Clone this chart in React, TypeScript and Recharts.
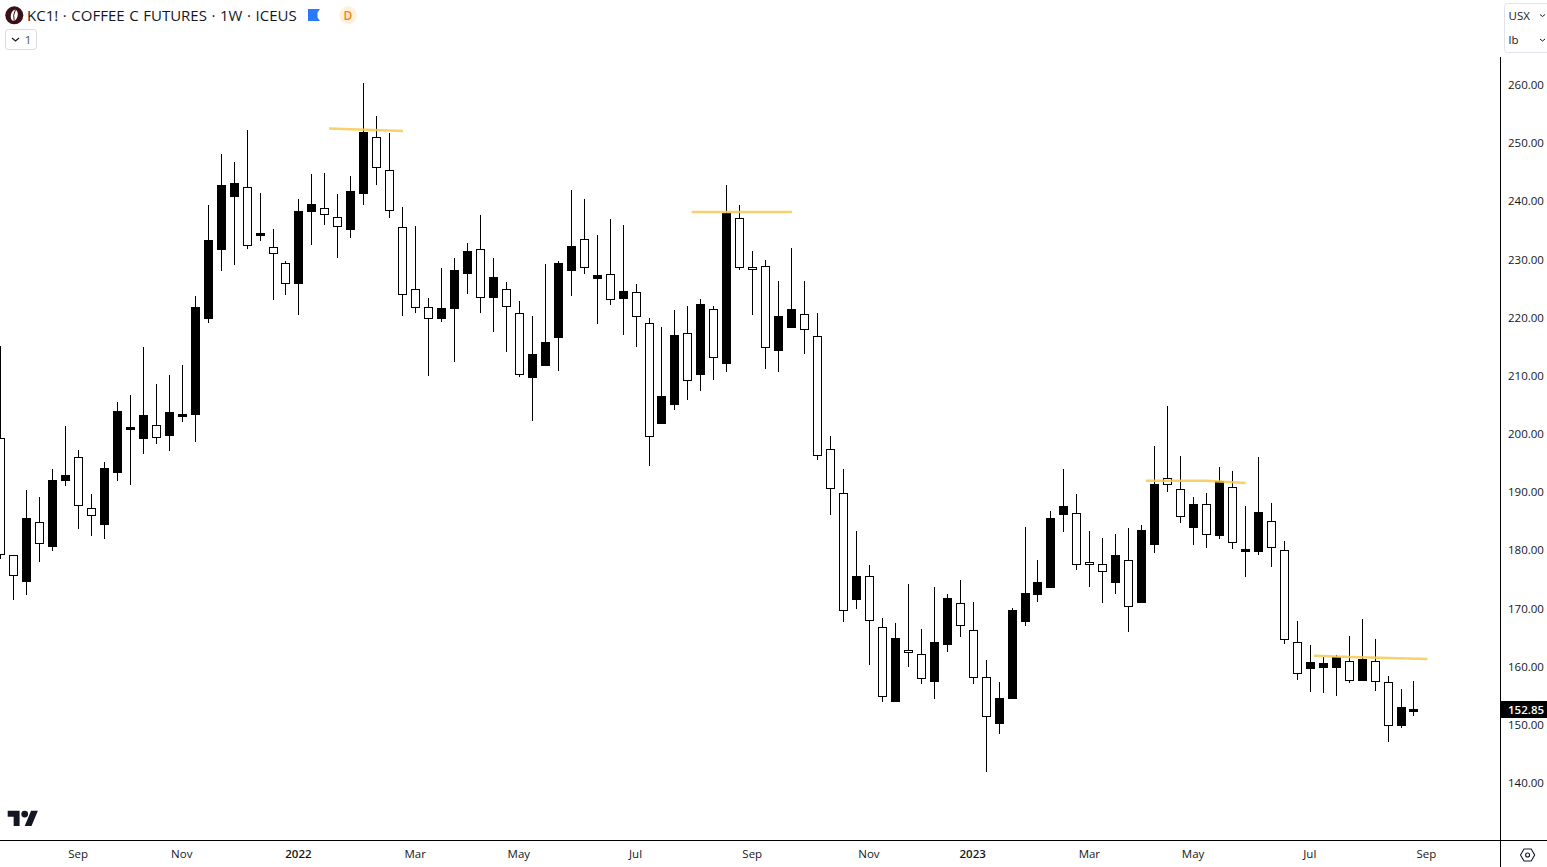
import React from "react";
import { ComposedChart, Bar, Line, XAxis, YAxis } from "recharts";

const opens = [199.40,179.23,174.64,184.91,180.66,192.00,196.08,187.31,184.49,193.43,
200.77,199.23,201.58,199.74,203.01,203.35,219.91,231.77,240.88,242.50,
234.13,232.18,229.43,225.87,238.25,238.89,237.34,235.16,241.35,251.10,
245.42,235.62,224.96,221.87,219.91,221.63,227.65,231.84,223.52,224.96,
220.84,209.77,211.83,216.64,228.16,233.56,226.79,227.54,223.35,224.45,
219.12,201.86,205.12,217.40,210.28,221.53,212.17,237.17,228.75,228.92,
214.41,218.36,220.67,216.88,197.46,189.89,171.60,175.62,166.86,154.06,
162.90,162.21,157.50,163.86,170.98,166.34,158.26,150.28,154.58,167.82,
172.46,173.66,186.21,186.45,178.03,177.69,174.52,178.37,171.09,181.06,
192.47,190.58,183.98,188.00,182.60,190.92,179.80,179.85,185.08,180.09,
164.28,159.74,159.91,159.91,161.01,157.67,161.01,157.40,149.94,152.35];

const highs = [215.22,179.23,190.46,189.26,194.07,201.46,197.34,189.77,195.27,205.59,
206.79,215.04,208.68,210.23,211.95,223.81,239.46,248.22,246.85,252.35,
241.52,235.33,229.78,240.49,244.79,244.96,241.35,244.44,260.43,254.76,
251.83,239.11,235.85,223.42,228.63,230.34,232.92,237.74,230.34,226.22,
222.95,220.37,229.31,229.83,242.04,240.49,234.30,237.05,236.02,225.87,
219.98,218.48,221.41,222.09,223.24,222.09,242.90,239.46,231.55,230.00,
226.39,232.06,226.39,220.89,199.74,194.07,183.41,177.57,168.45,167.59,
174.30,166.56,173.78,172.58,175.00,171.20,161.23,157.45,170.17,184.10,
178.42,186.85,194.07,189.77,183.41,182.21,182.90,183.93,184.45,198.02,
204.90,196.30,189.26,189.94,194.41,193.73,187.71,196.13,188.22,181.69,
167.94,163.81,161.75,162.04,165.36,168.28,164.84,158.48,156.25,157.62];

const lows = [178.65,171.60,172.46,178.13,180.02,191.20,183.81,182.60,182.09,192.06,
191.37,196.70,198.42,197.22,202.20,198.76,219.22,228.16,229.19,231.94,
233.32,223.12,224.04,220.60,232.63,236.07,230.40,233.78,239.51,242.95,
237.27,220.43,220.94,210.11,219.39,212.52,224.21,220.94,217.67,214.24,
209.94,202.37,211.83,210.97,223.86,227.65,219.05,222.32,217.16,215.10,
194.64,201.86,204.27,205.98,207.53,209.42,210.80,228.33,220.60,211.31,
210.80,218.36,213.89,195.67,186.21,167.82,170.05,160.42,154.06,154.06,
160.08,157.16,154.58,162.66,165.24,157.16,142.03,148.56,154.58,167.13,
171.26,173.66,183.29,176.76,173.84,171.09,172.63,166.10,171.09,179.68,
190.17,184.84,181.06,180.54,182.09,180.37,175.55,179.34,177.27,164.03,
157.85,155.78,155.61,155.10,157.28,157.67,155.96,147.19,149.59,151.66];

const closes = [179.40,175.90,185.64,181.40,192.18,193.04,187.93,186.21,194.24,204.04,
201.29,203.35,199.62,203.87,203.53,221.92,233.44,242.90,243.24,232.53,
234.64,231.15,225.99,238.42,239.63,237.86,235.79,241.86,252.01,245.94,
238.54,224.10,221.87,219.98,221.70,228.28,231.55,223.59,227.08,222.04,
210.35,213.84,215.90,229.49,232.41,228.75,227.42,223.24,224.67,220.32,
199.69,206.62,217.11,209.32,222.44,213.27,238.08,228.75,228.40,215.00,
220.37,221.58,218.09,196.56,190.75,169.78,175.67,168.06,154.99,165.02,
162.56,158.09,164.33,171.89,167.20,158.26,151.55,154.70,169.83,172.75,
174.64,185.64,187.71,177.69,177.69,176.48,179.29,170.47,183.58,191.49,
191.44,185.94,188.05,182.84,192.00,181.47,180.32,186.68,180.61,164.79,
158.95,160.89,160.72,161.75,157.74,161.41,157.57,150.01,153.15,152.85];

const tickIndexes = [6, 14, 23, 32, 40, 49, 58, 67, 75, 84, 92, 101, 110];
const tickLabels = ["Sep", "Nov", "2022", "Mar", "May", "Jul", "Sep", "Nov", "2023", "Mar", "May", "Jul", "Sep"];
const priceTicks = [140, 150, 160, 170, 180, 190, 200, 210, 220, 230, 240, 250, 260];
const lastPrice = 152.85;

const trendA = [{ i: 25.32, y: 252.61 }, { i: 31.03, y: 252.18 }];
const trendB = [{ i: 53.28, y: 238.25 }, { i: 61.03, y: 238.25 }];
const trendC = [{ i: 88.31, y: 192.06 }, { i: 92.94, y: 192.06 }, { i: 96.02, y: 191.66 }];
const trendD = [{ i: 101.29, y: 161.97 }, { i: 104.07, y: 161.75 }, { i: 110.03, y: 161.4 }];
const trends = [trendA, trendB, trendC, trendD];

const rows = opens.map((o, i) => ({
  i,
  open: o,
  high: highs[i],
  low: lows[i],
  close: closes[i],
  range: [lows[i], highs[i]],
}));

const FONT = "'Open Sans', 'Noto Sans', sans-serif";
const INK = "#131722";

function Candle(props: any) {
  const { x, y, width, height, payload } = props;
  const cx = Math.floor(x + width / 2) + 0.5;
  const span = payload.high - payload.low;
  const perUnit = span > 0 ? height / span : 0;
  const toY = (v: number) => y + (payload.high - v) * perUnit;
  const top = Math.round(toY(Math.max(payload.open, payload.close)));
  const bottom = Math.round(toY(Math.min(payload.open, payload.close)));
  const hi = Math.round(y);
  const lo = Math.round(y + height);
  const up = payload.close >= payload.open;
  return (
    <g>
      {hi < top && <line x1={cx} x2={cx} y1={hi} y2={top} stroke="#000" strokeWidth={1} />}
      {lo > bottom && <line x1={cx} x2={cx} y1={bottom} y2={lo} stroke="#000" strokeWidth={1} />}
      {up ? (
        <rect x={cx - 4.5} y={top} width={9} height={Math.max(bottom - top, 3)} fill="#000" />
      ) : (
        <rect x={cx - 4} y={top + 0.5} width={8} height={Math.max(bottom - top, 1)} fill="none" stroke="#000" strokeWidth={1} />
      )}
    </g>
  );
}

function TimeTick(props: any) {
  const { x, y, payload } = props;
  const label = tickLabels[tickIndexes.indexOf(payload.value)];
  const bold = label === "2022" || label === "2023";
  return (
    <text x={x - 0.5} y={y + 7} textAnchor="middle" dominantBaseline="central" fontFamily={FONT} fontSize={11.5} fontWeight={bold ? 600 : 400} fill={INK}>
      {label}
    </text>
  );
}

function Chrome() {
  return (
    <svg width={1547} height={867} style={{ position: "absolute", left: 0, top: 0, pointerEvents: "none" }}>
      <line x1={1500.5} x2={1500.5} y1={840} y2={867} stroke="#000" />
      <line x1={1500} x2={1547} y1={840.5} y2={840.5} stroke="#000" />

      <circle cx={14.3} cy={15.3} r={9} fill="#3a0f17" />
      <ellipse cx={14.3} cy={15.3} rx={3.4} ry={5.6} fill="#fff" transform="rotate(12 14.3 15.3)" />
      <path d="M15.4 10 Q12.6 15 14.2 20.6" fill="none" stroke="#3a0f17" strokeWidth={1} />
      <text x={27} y={20.5} fontFamily={FONT} fontSize={15} wordSpacing={0.7} fill={INK}>KC1! · COFFEE C FUTURES · 1W · ICEUS</text>
      <path d="M308 9H320L317.5 12.5V17.5L320 21H308Z" fill="#2979ff" />
      <circle cx={348} cy={15.3} r={9} fill="#fff0df" />
      <text x={348} y={19.6} textAnchor="middle" fontFamily={FONT} fontSize={12} fontWeight={600} fill="#ff8000">D</text>

      <rect x={5.5} y={29.5} width={31} height={20} rx={3} fill="#fff" stroke="#d8dbe4" />
      <path d="M12 38L15.5 41L19 38" fill="none" stroke={INK} strokeWidth={1.1} />
      <text x={28} y={44} textAnchor="middle" fontFamily={FONT} fontSize={11.5} fill="#4a4e59">1</text>

      <rect x={1504.5} y={3.5} width={60} height={49} rx={3} fill="#fff" stroke="#e0e3eb" />
      <text x={1508.5} y={20} fontFamily={FONT} fontSize={11.5} fill={INK}>USX</text>
      <text x={1508.5} y={44} fontFamily={FONT} fontSize={11.5} fill={INK}>lb</text>
      <path d="M1540 14.5L1542.5 16.5L1545 14.5" fill="none" stroke={INK} />
      <path d="M1540 39L1542.5 41L1545 39" fill="none" stroke={INK} />

      <rect x={1501} y={701} width={46} height={17} fill="#000" />
      <text x={1508} y={709.7} dominantBaseline="central" fontFamily={FONT} fontSize={11.5} fontWeight={600} fill="#fff">{lastPrice.toFixed(2)}</text>

      <g transform="translate(7.7 807.3) scale(0.85)" fill={INK}>
        <path d="M14 22H7V11H0V4h14v18zM28 22h-8l7.5-18h8L28 22z" />
        <circle cx={20} cy={8} r={4} />
      </g>

      <path d="M1520.5 855L1524 849H1531.2L1534.7 855L1531.2 861H1524Z" fill="none" stroke={INK} strokeWidth={1.1} strokeLinejoin="round" />
      <circle cx={1527.6} cy={855} r={2} fill="none" stroke={INK} strokeWidth={1.1} />
    </svg>
  );
}

export default function App() {
  return (
    <div style={{ position: "absolute", left: 0, top: 0, width: 1547, height: 867, background: "#fff", overflow: "hidden" }}>
      <ComposedChart width={1547} height={867} data={rows} margin={{ top: 57, right: 0, bottom: 0, left: 0 }}>
        <XAxis
          dataKey="i"
          type="number"
          domain={[-0.05707, 115.672]}
          allowDataOverflow
          ticks={tickIndexes}
          interval={0}
          height={26.5}
          axisLine={{ stroke: "#000" }}
          tickLine={false}
          tickMargin={0}
          tick={<TimeTick />}
        />
        <YAxis
          orientation="right"
          type="number"
          domain={[130.2, 264.9]}
          allowDataOverflow
          ticks={priceTicks}
          interval={0}
          width={46.5}
          axisLine={{ stroke: "#000" }}
          tickLine={false}
          tickSize={0}
          tickMargin={7.5}
          tickFormatter={(v: number) => v.toFixed(2)}
          tick={{ fontFamily: FONT, fontSize: 11.5, fill: INK, textAnchor: "start", dy: -0.5 }}
        />
        {trends.map((t, n) => (
          <Line key={n} data={t} dataKey="y" type="linear" stroke="#f6c94f" strokeOpacity={0.85} strokeWidth={2.5} dot={false} activeDot={false} isAnimationActive={false} />
        ))}
        <Bar dataKey="range" barSize={9} shape={<Candle />} isAnimationActive={false} />
      </ComposedChart>
      <Chrome />
    </div>
  );
}
